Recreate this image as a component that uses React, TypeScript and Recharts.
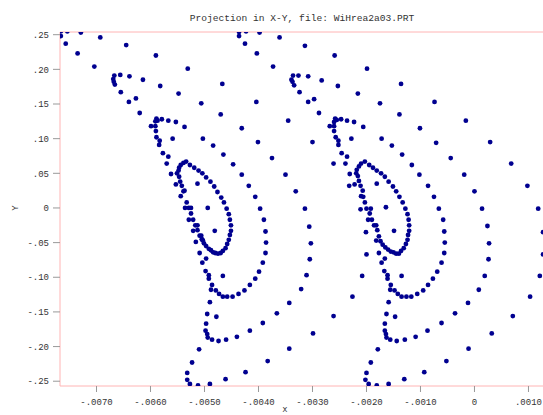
import React from "react";
import { ScatterChart, Scatter, XAxis, YAxis, ReferenceLine } from "recharts";

// phase-space points, [x, y]
const trailA = [
  [-0.00766, 0.255], [-0.00766, 0.248], [-0.00754, 0.255], [-0.00729, 0.253], [-0.00693, 0.246],
  [-0.00757, 0.237], [-0.00645, 0.235], [-0.00735, 0.223], [-0.0059, 0.22], [-0.00704, 0.204],
  [-0.00667, 0.191], [-0.00656, 0.192], [-0.00639, 0.19], [-0.00669, 0.186], [-0.00668, 0.182],
  [-0.00666, 0.178], [-0.00614, 0.185], [-0.00582, 0.176], [-0.00548, 0.165], [-0.00655, 0.167],
  [-0.00627, 0.158], [-0.0064, 0.153], [-0.0062, 0.137], [-0.00589, 0.129], [-0.00587, 0.126],
  [-0.00579, 0.128], [-0.00567, 0.126], [-0.00553, 0.124], [-0.00591, 0.125], [-0.00599, 0.118],
  [-0.00591, 0.118], [-0.0059, 0.111], [-0.00589, 0.102], [-0.00583, 0.097], [-0.00559, 0.1],
  [-0.00584, 0.091], [-0.00577, 0.079], [-0.00567, 0.074], [-0.0057, 0.064], [-0.00562, 0.049],
  [-0.00553, 0.034],
];

const coreA = [
  [-0.00534, 0.067], [-0.00527, 0.062], [-0.00519, 0.058], [-0.00511, 0.054], [-0.00504, 0.05],
  [-0.00497, 0.044], [-0.00489, 0.038], [-0.00482, 0.031], [-0.00476, 0.023], [-0.00469, 0.015],
  [-0.00464, 0.008], [-0.00459, -0.001], [-0.00455, -0.009], [-0.00453, -0.017], [-0.00451, -0.025],
  [-0.00451, -0.033], [-0.00453, -0.039], [-0.00455, -0.046], [-0.00458, -0.052], [-0.00461, -0.058],
  [-0.00466, -0.062], [-0.0047, -0.065], [-0.00475, -0.066], [-0.0048, -0.065], [-0.00484, -0.064],
  [-0.00488, -0.061], [-0.00492, -0.059], [-0.00497, -0.055], [-0.00501, -0.051], [-0.00504, -0.046],
  [-0.00506, -0.04], [-0.00539, 0.065], [-0.00544, 0.062], [-0.00547, 0.058], [-0.00548, 0.054],
  [-0.00551, 0.05], [-0.00547, 0.045], [-0.00545, 0.038], [-0.00542, 0.032], [-0.00537, 0.025],
  [-0.00539, 0.024], [-0.00544, 0.017], [-0.00533, 0.008], [-0.00536, 0.0], [-0.00529, 0.0],
  [-0.00525, 0.0], [-0.00525, -0.008], [-0.00529, -0.017], [-0.00521, -0.017], [-0.00517, -0.025],
  [-0.00513, -0.025], [-0.00513, -0.032], [-0.00521, -0.033], [-0.00509, -0.04], [-0.00516, -0.049],
  [-0.00505, -0.045], [-0.00503, -0.047], [-0.00513, 0.035], [-0.00494, 0.0], [-0.00481, -0.033],
  [-0.00509, -0.065], [-0.00497, -0.073], [-0.00504, -0.079], [-0.00498, -0.091], [-0.00492, -0.097],
  [-0.00492, -0.102], [-0.00466, -0.098], [-0.00486, -0.111], [-0.00488, -0.118], [-0.00479, -0.119],
  [-0.00473, -0.124], [-0.00466, -0.128], [-0.00458, -0.128], [-0.00448, -0.128], [-0.00437, -0.124],
  [-0.00426, -0.119], [-0.00416, -0.111], [-0.00406, -0.102], [-0.00399, -0.092], [-0.00392, -0.079],
  [-0.00387, -0.065], [-0.0049, -0.136], [-0.00495, -0.153], [-0.00478, -0.157], [-0.00497, -0.167],
  [-0.00498, -0.177], [-0.00495, -0.182], [-0.00494, -0.187], [-0.00486, -0.19], [-0.00474, -0.192],
  [-0.0046, -0.19], [-0.0044, -0.186], [-0.00416, -0.177], [-0.00392, -0.166], [-0.00366, -0.152],
  [-0.00343, -0.137], [-0.0051, -0.204], [-0.00523, -0.223], [-0.00532, -0.238], [-0.00532, -0.248],
  [-0.00527, -0.254], [-0.00512, -0.256], [-0.0049, -0.254], [-0.00461, -0.247], [-0.00424, -0.237],
  [-0.00383, -0.221], [-0.00343, -0.203],
];

const armsA = [
  [-0.00484, 0.09], [-0.00465, 0.077], [-0.00447, 0.063], [-0.00431, 0.048], [-0.00418, 0.032],
  [-0.00406, 0.016], [-0.00397, -0.001], [-0.0039, -0.017], [-0.00387, -0.034], [-0.00386, -0.05],
  [-0.00401, 0.095], [-0.00375, 0.072], [-0.0035, 0.048], [-0.00331, 0.024], [-0.00314, -0.001],
  [-0.00306, -0.027], [-0.00303, -0.051], [-0.00305, -0.074], [-0.00311, -0.097], [-0.00321, -0.117],
  [-0.00404, 0.153], [-0.00431, 0.115], [-0.00345, 0.126], [-0.003, 0.095], [-0.00467, 0.179],
  [-0.0047, 0.135], [-0.00503, 0.1], [-0.00506, 0.151], [-0.00531, 0.201], [-0.00537, 0.117],
  [-0.00261, 0.064], [-0.00232, 0.032], [-0.00211, -0.002], [-0.00201, -0.035], [-0.002, -0.067],
  [-0.00208, -0.098], [-0.00226, -0.128], [-0.00261, -0.156], [-0.00299, -0.181],
];

const trailB = [
  [-0.00436, 0.254], [-0.00436, 0.248], [-0.00423, 0.255], [-0.00398, 0.253], [-0.00361, 0.246],
  [-0.00425, 0.237], [-0.00314, 0.234], [-0.00403, 0.223], [-0.00259, 0.22], [-0.00373, 0.204],
  [-0.00199, 0.201], [-0.00336, 0.191], [-0.00326, 0.191], [-0.00308, 0.19], [-0.00339, 0.185],
  [-0.00337, 0.182], [-0.00334, 0.177], [-0.00283, 0.184], [-0.00253, 0.176], [-0.00216, 0.165],
  [-0.00324, 0.167], [-0.00297, 0.157], [-0.00308, 0.153], [-0.00288, 0.137], [-0.00258, 0.129],
  [-0.00255, 0.127], [-0.00247, 0.128], [-0.00236, 0.126], [-0.00223, 0.124], [-0.00206, 0.117],
  [-0.0026, 0.124], [-0.00268, 0.118], [-0.0026, 0.118], [-0.0026, 0.111], [-0.00257, 0.102],
  [-0.00252, 0.097], [-0.00228, 0.1], [-0.00252, 0.091], [-0.00246, 0.079], [-0.00236, 0.074],
  [-0.00239, 0.064], [-0.00231, 0.049], [-0.00222, 0.034],
];

const coreB = [
  [-0.00203, 0.067], [-0.00195, 0.062], [-0.00188, 0.058], [-0.00181, 0.054], [-0.00173, 0.05],
  [-0.00166, 0.045], [-0.00159, 0.038], [-0.00151, 0.031], [-0.00145, 0.024], [-0.00139, 0.016],
  [-0.00133, 0.008], [-0.00128, -0.001], [-0.00124, -0.009], [-0.00122, -0.017], [-0.00121, -0.025],
  [-0.00121, -0.033], [-0.00123, -0.039], [-0.00124, -0.046], [-0.00127, -0.052], [-0.00131, -0.058],
  [-0.00136, -0.062], [-0.0014, -0.066], [-0.00145, -0.066], [-0.0015, -0.064], [-0.00155, -0.063],
  [-0.0016, -0.06], [-0.00165, -0.057], [-0.0017, -0.053], [-0.00174, -0.048], [-0.00177, -0.041],
  [-0.0018, -0.032], [-0.00182, -0.025], [-0.00186, -0.025], [-0.0019, -0.017], [-0.00197, -0.017],
  [-0.00194, -0.008], [-0.00192, -0.001], [-0.002, -0.001], [-0.00203, 0.008], [-0.00206, 0.016],
  [-0.0021, 0.017], [-0.00207, 0.025], [-0.00211, 0.032], [-0.00214, 0.039], [-0.00216, 0.046],
  [-0.00219, 0.05], [-0.00218, 0.055], [-0.00214, 0.06], [-0.0021, 0.064], [-0.00181, 0.035],
  [-0.00164, 0.001], [-0.00149, -0.033], [-0.00182, -0.047], [-0.00177, -0.065], [-0.00166, -0.073],
  [-0.00172, -0.079], [-0.00167, -0.091], [-0.00161, -0.097], [-0.00161, -0.102], [-0.00135, -0.098],
  [-0.00155, -0.111], [-0.00156, -0.118], [-0.00148, -0.119], [-0.00142, -0.124], [-0.00135, -0.128],
  [-0.00126, -0.128], [-0.00117, -0.128], [-0.00106, -0.124], [-0.00095, -0.119], [-0.00086, -0.111],
  [-0.00077, -0.102], [-0.00069, -0.092], [-0.00061, -0.079], [-0.00056, -0.065], [-0.00159, -0.136],
  [-0.00163, -0.153], [-0.00147, -0.157], [-0.00166, -0.167], [-0.00166, -0.177], [-0.00164, -0.182],
  [-0.00163, -0.187], [-0.00156, -0.19], [-0.00144, -0.192], [-0.00129, -0.19], [-0.00109, -0.186],
  [-0.00087, -0.177], [-0.00061, -0.166], [-0.00036, -0.152], [-0.00012, -0.137], [-0.00179, -0.204],
  [-0.00192, -0.223], [-0.002, -0.238], [-0.00202, -0.248], [-0.00196, -0.254], [-0.00181, -0.256],
  [-0.00159, -0.254], [-0.0013, -0.247], [-0.00093, -0.237], [-0.00052, -0.221], [-0.00011, -0.203],
];

const armsB = [
  [-0.00153, 0.09], [-0.00134, 0.077], [-0.00116, 0.062], [-0.00102, 0.048], [-0.00086, 0.032],
  [-0.00075, 0.016], [-0.00066, -0.001], [-0.00058, -0.017], [-0.00056, -0.034], [-0.00055, -0.05],
  [-0.00071, 0.094], [-0.00044, 0.072], [-0.00019, 0.048], [0.0, 0.024], [0.00014, -0.001],
  [0.00024, -0.026], [0.00027, -0.051], [0.00026, -0.074], [0.00019, -0.098], [0.00008, -0.118],
  [-0.00136, 0.179], [-0.00175, 0.151], [-0.00074, 0.153], [-0.00139, 0.135], [-0.00016, 0.126],
  [-0.00101, 0.115], [-0.00172, 0.1], [0.00029, 0.095], [0.00068, 0.064], [0.00098, 0.032],
  [0.00118, -0.001], [0.00127, -0.035], [0.00127, -0.067], [0.00121, -0.098], [0.00103, -0.128],
  [0.00071, -0.156], [0.00032, -0.181],
];

const xTicks = [-0.007, -0.006, -0.005, -0.004, -0.003, -0.002, -0.001, 0, 0.001];
const yTicks = [-0.25, -0.2, -0.15, -0.1, -0.05, 0, 0.05, 0.1, 0.15, 0.2, 0.25];

const X_DOMAIN = [-0.007676, 0.001306];
const Y_DOMAIN = [-0.2569, 0.2539];

const FONT = "'Liberation Mono', 'DejaVu Sans Mono', monospace";
const BORDER = "#ffb4b4";
const DOT = "#000090";

const fmt = (v: number, digits: number) => {
  if (v === 0) return "0";
  const s = Math.abs(v).toFixed(digits).replace(/^0/, "");
  return (v < 0 ? "-" : "") + s;
};

const toPts = (arr: number[][]) => arr.map(([x, y]) => ({ x, y }));

const series = [trailA, coreA, armsA, trailB, coreB, armsB];

const Dot = (props: any) => <circle cx={props.cx} cy={props.cy} r={2.4} fill={DOT} />;

export default function App() {
  return (
    <div
      style={{
        position: "absolute",
        left: 0,
        top: 0,
        width: 543,
        height: 415,
        overflow: "hidden",
        background: "#fff",
      }}
    >
      <ScatterChart
        width={560}
        height={415}
        margin={{ top: 32, right: 15, bottom: 0, left: 0 }}
        style={{ fontFamily: FONT }}
      >
        <XAxis
          type="number"
          dataKey="x"
          domain={X_DOMAIN}
          allowDataOverflow
          ticks={xTicks}
          interval={0}
          height={29}
          tickSize={6}
          tickMargin={7}
          tickFormatter={(v: number) => fmt(v, 4)}
          tick={{ fontSize: 9, fill: "#333", fontFamily: FONT }}
          tickLine={{ stroke: "#999" }}
          axisLine={{ stroke: BORDER }}
        />
        <YAxis
          type="number"
          dataKey="y"
          domain={Y_DOMAIN}
          allowDataOverflow
          ticks={yTicks}
          interval={0}
          width={60}
          tickSize={7}
          tickMargin={4}
          tickFormatter={(v: number) => fmt(v, 2)}
          tick={{ fontSize: 9, fill: "#333", fontFamily: FONT }}
          tickLine={{ stroke: "#999" }}
          axisLine={{ stroke: BORDER }}
        />
        <ReferenceLine y={Y_DOMAIN[1]} stroke={BORDER} />
        {series.map((s, i) => (
          <Scatter key={i} data={toPts(s)} shape={Dot} isAnimationActive={false} />
        ))}
      </ScatterChart>
      <svg
        width={543}
        height={415}
        style={{ position: "absolute", left: 0, top: 0, pointerEvents: "none" }}
      >
        <text x={302} y={21} textAnchor="middle" fontSize={9.6} fill="#333" fontFamily={FONT}>
          Projection in X-Y, file: WiHrea2a03.PRT
        </text>
        <text
          x={18}
          y={208}
          textAnchor="middle"
          fontSize={9}
          fill="#333"
          fontFamily={FONT}
          transform="rotate(-90 18 208)"
        >
          Y
        </text>
        <text x={285} y={412} textAnchor="middle" fontSize={8} fill="#333" fontFamily={FONT}>
          X
        </text>
      </svg>
    </div>
  );
}
